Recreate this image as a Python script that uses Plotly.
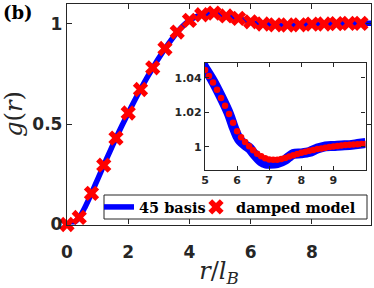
import plotly.graph_objects as go

# ---- data ----
r_basis = [0.0, 0.2, 0.4, 0.6, 0.8, 1.0, 1.2, 1.4, 1.6, 1.8, 2.0, 2.2, 2.4, 2.6, 2.8,
           3.0, 3.2, 3.4, 3.6, 3.8, 4.0, 4.2, 4.4, 4.6, 4.8, 5.0, 5.25, 5.5, 5.75, 5.9,
           6.0, 6.1, 6.25, 6.4, 6.5, 6.75, 6.9, 7.0, 7.25, 7.5, 7.6, 7.75, 8.0, 8.25,
           8.5, 8.75, 9.0, 9.25, 9.5, 9.75, 10.0]
g_basis = [0.0, 0.008, 0.035, 0.09, 0.155, 0.225, 0.295, 0.363, 0.43, 0.494, 0.555,
           0.615, 0.672, 0.727, 0.779, 0.829, 0.875, 0.918, 0.957, 0.99, 1.015, 1.033,
           1.044, 1.05, 1.051, 1.0455, 1.038, 1.029, 1.019, 1.011, 1.0065, 1.0035,
           1.001, 0.999, 0.9965, 0.9915, 0.9903, 0.9902, 0.9905, 0.9925, 0.994,
           0.9958, 0.9962, 0.997, 0.999, 1.0003, 1.0005, 1.0008, 1.001, 1.0016, 1.0022]

r_mark = [0.0, 0.4, 0.8, 1.2, 1.6, 2.0, 2.4, 2.8, 3.2, 3.6, 4.0, 4.4, 4.8, 5.2, 5.6,
          6.0, 6.4, 6.8, 7.2, 7.6, 8.0, 8.4, 8.8, 9.2, 9.6]
g_mark = [0.0, 0.035, 0.155, 0.295, 0.43, 0.555, 0.672, 0.78, 0.876, 0.958, 1.016,
          1.044, 1.052, 1.038, 1.026, 1.009, 0.998, 0.994, 0.993, 0.994, 0.997, 0.998,
          1.0, 1.001, 1.001]

r_damp = [5.0, 5.125, 5.25, 5.375, 5.5, 5.625, 5.75, 5.875, 6.0, 6.125, 6.25, 6.375,
          6.5, 6.625, 6.75, 6.875, 7.0, 7.125, 7.25, 7.375, 7.5, 7.625, 7.75, 7.875,
          8.0, 8.125, 8.25, 8.375, 8.5, 8.625, 8.75, 8.875, 9.0, 9.125, 9.25, 9.375,
          9.5, 9.625, 9.75, 9.875, 10.0]
g_damp = [1.0445, 1.041, 1.0372, 1.033, 1.0283, 1.0238, 1.019, 1.014, 1.009, 1.0055,
          1.0028, 1.0003, 0.998, 0.996, 0.9945, 0.9934, 0.9927, 0.9925, 0.9926, 0.993,
          0.9936, 0.9944, 0.9952, 0.9959, 0.9966, 0.9972, 0.9977, 0.9982, 0.9987,
          0.9991, 0.9995, 0.9999, 1.0002, 1.0005, 1.0008, 1.001, 1.0012, 1.0014,
          1.0015, 1.0016, 1.0017]

main_xticks = [0, 2, 4, 6, 8]
main_yticks = [0, 0.5, 1]
main_yticklabels = ["0", "0.5", "1"]
inset_xticks = [5, 6, 7, 8, 9]
inset_yticks = [1, 1.02, 1.04]
inset_yticklabels = ["1", "1.02", "1.04"]

W, H = 374, 288
AX = "#262626"
BLUE = "#0000FF"
RED = "#FF0000"

fig = go.Figure()
fig.add_trace(go.Scatter(x=r_basis, y=g_basis, mode="lines", name="45 basis",
                         line=dict(color=BLUE, width=5.5, shape="spline", smoothing=0.8),
                         xaxis="x", yaxis="y", legend="legend"))
fig.add_trace(go.Scatter(x=r_mark, y=g_mark, mode="markers", name="damped model",
                         marker=dict(symbol="x", size=13.5, color=RED, line=dict(width=0)),
                         cliponaxis=False, xaxis="x", yaxis="y", legend="legend2"))
fig.add_trace(go.Scatter(x=r_basis, y=g_basis, mode="lines", showlegend=False,
                         line=dict(color=BLUE, width=10, shape="spline", smoothing=0.8),
                         xaxis="x2", yaxis="y2"))
fig.add_trace(go.Scatter(x=r_damp, y=g_damp, mode="markers", showlegend=False,
                         marker=dict(symbol="circle", size=6.5, color=RED, line=dict(width=0)),
                         xaxis="x2", yaxis="y2"))

tickfont_main = dict(family="DejaVu Sans", size=17, color=AX, weight=700)
tickfont_inset = dict(family="DejaVu Sans", size=11, color=AX, weight=700)
common = dict(showgrid=False, zeroline=False, showline=True, linecolor=AX, linewidth=1.3,
              ticks="inside", mirror="ticks", tickcolor=AX, tickwidth=1.1,
              automargin=False)
legfont = dict(family="DejaVu Serif", size=14.5, color="black", weight=700)

fig.update_layout(
    width=W, height=H, margin=dict(l=0, r=0, t=0, b=0, autoexpand=False),
    paper_bgcolor="white", plot_bgcolor="white",
    xaxis=dict(domain=[67 / W, 371 / W], range=[0, 9.93], tickvals=main_xticks,
               ticklen=5, tickfont=tickfont_main, anchor="y", ticklabelstandoff=12,
               title=dict(text="<i>r</i>/<i>l</i><sub><i>B</i></sub>", standoff=2,
                          font=dict(family="DejaVu Serif", size=24, color=AX)),
               **common),
    yaxis=dict(domain=[63.5 / H, 284.5 / H], range=[0, 1.1], tickvals=main_yticks,
               ticktext=main_yticklabels, ticklen=5, tickfont=tickfont_main, anchor="x",
               title=dict(text="<i>g</i>(<i>r</i>)", standoff=6,
                          font=dict(family="DejaVu Serif", size=24, color=AX)),
               **common),
    xaxis2=dict(domain=[205 / W, 365.5 / W], range=[5, 10], tickvals=inset_xticks,
                ticklen=4, tickfont=tickfont_inset, anchor="y2", **common),
    yaxis2=dict(domain=[(H - 170) / H, (H - 62.7) / H], range=[0.9866, 1.0487],
                tickvals=inset_yticks, ticktext=inset_yticklabels, ticklen=4,
                tickfont=tickfont_inset, anchor="x2", **common),
    legend=dict(x=99 / W, y=1 - 207 / H, xanchor="left", yanchor="middle",
                orientation="h", bgcolor="rgba(0,0,0,0)", borderwidth=0, itemwidth=30,
                font=legfont),
    legend2=dict(x=196 / W, y=1 - 207 / H, xanchor="left", yanchor="middle",
                 orientation="h", bgcolor="rgba(0,0,0,0)", borderwidth=0, itemwidth=30,
                 font=legfont),
    shapes=[dict(type="rect", xref="paper", yref="paper", x0=104 / W, x1=367 / W,
                 y0=1 - 219 / H, y1=1 - 195 / H, line=dict(color=AX, width=1),
                 fillcolor="white", layer="above")],
    annotations=[dict(text="<b>(b)</b>", x=0, y=1, xref="paper", yref="paper",
                      xanchor="left", yanchor="top", showarrow=False, xshift=1,
                      font=dict(family="DejaVu Serif", size=18, color="black"))],
)

fig.write_html("out.html", config={"displayModeBar": False},
               post_script="document.body.style.margin='0';")
